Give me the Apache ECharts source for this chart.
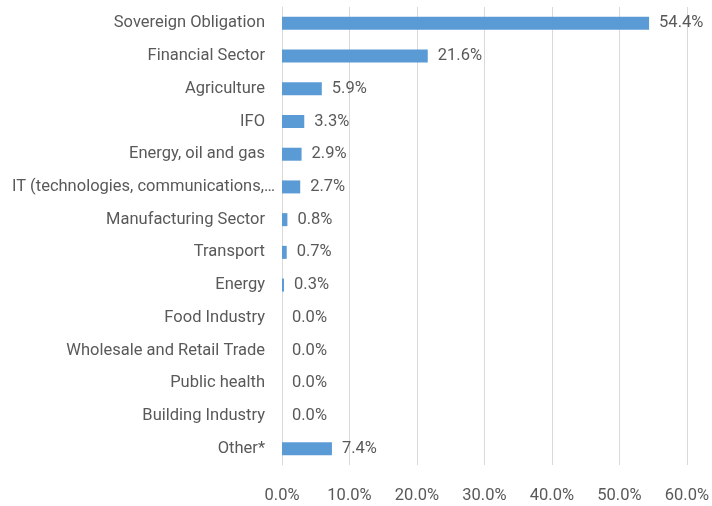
<!DOCTYPE html>
<html>
<head>
<meta charset="utf-8">
<script src="https://cdn.jsdelivr.net/npm/echarts@6/dist/echarts.min.js"></script>
<style>
  html, body { margin: 0; padding: 0; background: #fff; }
  #chart { width: 712px; height: 506px; }
</style>
</head>
<body>
<div id="chart"></div>
<script>
// categories, top to bottom as in the picture
const categories = [
	'Sovereign Obligation',
	'Financial Sector',
	'Agriculture',
	'IFO',
	'Energy, oil and gas',
	'IT (technologies, communications,…',
	'Manufacturing Sector',
	'Transport',
	'Energy',
	'Food Industry',
	'Wholesale and Retail Trade',
	'Public health',
	'Building Industry',
	'Other*'
]
const shares = [54.4, 21.6, 5.9, 3.3, 2.9, 2.7, 0.8, 0.7, 0.3, 0.0, 0.0, 0.0, 0.0, 7.4]

const font = 'Roboto, "Open Sans", sans-serif'
const textColor = '#595959'
const fontSize = 16.5

// the truncated IT label runs a little past the others, as in the picture
const yData = categories.map((c) =>
	c.startsWith('IT (') ? { value: c, textStyle: { padding: [0, -10, 0, 0] } } : c
)

const chart = echarts.init(document.getElementById('chart'))
const option = {
	animation: false,
	textStyle: { fontFamily: font },
	grid: { left: 282, right: 20, top: 7, bottom: 41 },
	xAxis: {
		type: 'value',
		min: 0,
		max: 60,
		interval: 10,
		axisLine: { show: false },
		axisTick: { show: false },
		splitLine: { lineStyle: { color: '#d9d9d9', width: 1 } },
		axisLabel: {
			formatter: (v) => v.toFixed(1) + '%',
			color: textColor,
			fontSize: fontSize,
			fontFamily: font,
			margin: 22
		}
	},
	yAxis: {
		type: 'category',
		inverse: true,
		data: yData,
		axisLine: { show: true, lineStyle: { color: '#d9d9d9' } },
		axisTick: { show: false },
		axisLabel: {
			color: textColor,
			fontSize: fontSize,
			fontFamily: font,
			margin: 17
		}
	},
	series: [
		{
			type: 'bar',
			data: shares,
			barWidth: 13,
			itemStyle: { color: '#5b9bd5' },
			label: {
				show: true,
				position: 'right',
				distance: 10,
				formatter: (p) => p.value.toFixed(1) + '%',
				color: textColor,
				fontSize: fontSize,
				fontFamily: font
			}
		}
	]
}
chart.setOption(option)
</script>
</body>
</html>
